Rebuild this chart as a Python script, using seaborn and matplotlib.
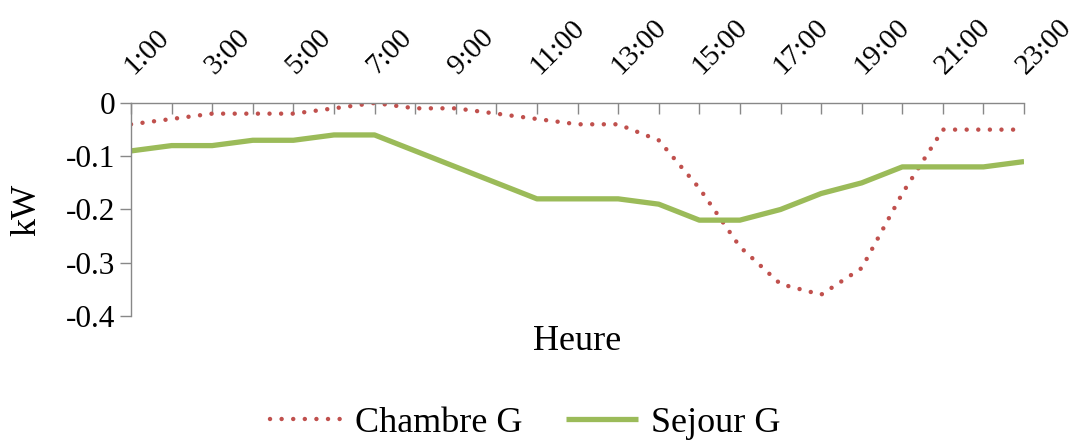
import matplotlib
matplotlib.use("Agg")
import matplotlib.pyplot as plt
import matplotlib.transforms as mtransforms
import seaborn as sns
import pandas as pd

# ---- data ----
hours = list(range(1, 24))
hour_labels = [f"{h}:00" for h in hours]
chambre_g = [-0.04, -0.03, -0.02, -0.02, -0.02, -0.01, 0.0, -0.01, -0.01, -0.02, -0.03, -0.04,
             -0.04, -0.07, -0.16, -0.27, -0.34, -0.36, -0.31, -0.17, -0.05, -0.05, -0.05]
sejour_g = [-0.09, -0.08, -0.08, -0.07, -0.07, -0.06, -0.06, -0.09, -0.12, -0.15, -0.18, -0.18,
            -0.18, -0.19, -0.22, -0.22, -0.20, -0.17, -0.15, -0.12, -0.12, -0.12, -0.11]
series_names = ["Chambre G", "Sejour G"]
y_ticks = [0, -0.1, -0.2, -0.3, -0.4]
y_tick_labels = ["0", "-0.1", "-0.2", "-0.3", "-0.4"]

df = pd.DataFrame({"Heure": hours, series_names[0]: chambre_g, series_names[1]: sejour_g})

sns.set_theme(style="white")
plt.rcParams["font.family"] = ["Liberation Serif", "DejaVu Serif"]
plt.rcParams["text.color"] = "black"
plt.rcParams["axes.labelcolor"] = "black"
plt.rcParams["xtick.labelcolor"] = "black"
plt.rcParams["ytick.labelcolor"] = "black"

fig = plt.figure(figsize=(10.79, 4.43), dpi=100)
ax = fig.add_axes([0.1214, 0.2867, 0.8277, 0.4808])

red = "#C0504D"
green = "#9BBB59"

sns.lineplot(data=df, x="Heure", y=series_names[0], ax=ax, color=red, lw=3.2,
             linestyle=(0, (0.01, 2.6)), dash_capstyle="round", label=series_names[0], legend=False)
sns.lineplot(data=df, x="Heure", y=series_names[1], ax=ax, color=green, lw=3.8,
             solid_capstyle="butt", label=series_names[1], legend=False)

ax.set_xlim(1, 23)
ax.set_ylim(-0.4, 0)

# x axis on top
ax.xaxis.tick_top()
ax.set_xticks(hours)
ax.set_xticklabels([lab if i % 2 == 0 else "" for i, lab in enumerate(hour_labels)])
ax.tick_params(axis="x", direction="in", length=8, width=1, color="#888888",
               labelsize=21, pad=20, top=True, bottom=False, labelcolor="black")
offset = mtransforms.ScaledTranslation(2 / 100, 0, fig.dpi_scale_trans)
for t in ax.get_xticklabels():
    t.set_rotation(45)
    t.set_rotation_mode("anchor")
    t.set_ha("left")
    t.set_va("baseline")
    t.set_transform(t.get_transform() + offset)

ax.set_yticks(y_ticks)
ax.set_yticklabels(y_tick_labels)
ax.tick_params(axis="y", direction="out", length=8, width=1, color="#888888",
               labelsize=22.5, pad=3, left=True, labelcolor="black")

for s in ["right", "bottom"]:
    ax.spines[s].set_visible(False)
for s in ["top", "left"]:
    ax.spines[s].set_color("#888888")
    ax.spines[s].set_linewidth(1)

ax.set_xlabel("Heure", fontsize=26, color="black")
ax.xaxis.set_label_position("bottom")
ax.xaxis.set_label_coords(0.5, -0.04)
ax.set_ylabel("kW", fontsize=26, color="black")
ax.yaxis.set_label_coords(-0.098, 0.5)

handles, labels = ax.get_legend_handles_labels()
fig.legend(handles, labels, loc="center", bbox_to_anchor=(0.487, 0.045), ncol=2,
           frameon=False, fontsize=26, handlelength=2.0, handletextpad=0.35,
           columnspacing=1.2, labelcolor="black")

fig.savefig("out.png", dpi=100)
